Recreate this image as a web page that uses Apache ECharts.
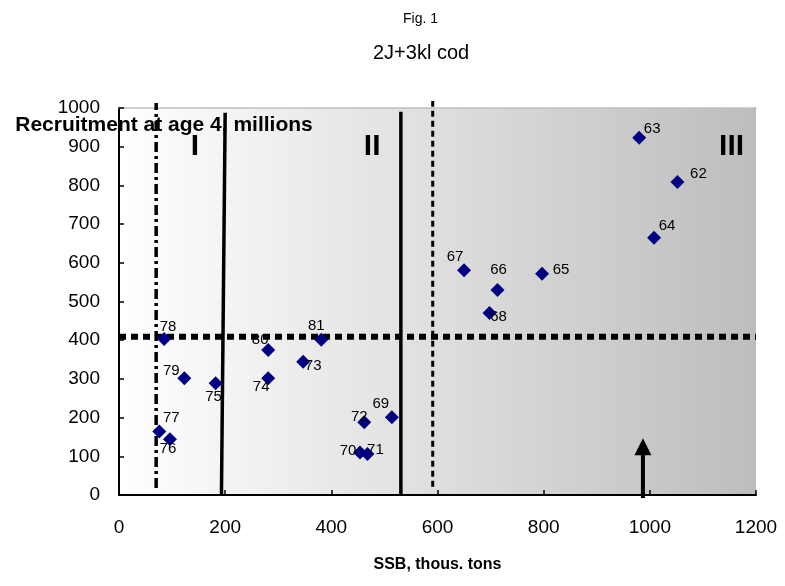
<!DOCTYPE html>
<html><head><meta charset="utf-8">
<script src="https://cdn.jsdelivr.net/npm/echarts@6/dist/echarts.min.js"></script>
<style>html,body{margin:0;padding:0;background:#fff}#c{width:785px;height:586px}</style>
</head><body><div id="c"></div>
<script>
// ---- data ----
const years = ['62','63','64','65','66','67','68','69','70','71','72','73','74','75','76','77','78','79','80','81'];
const ssb = [1052, 980, 1008, 797, 713, 650, 698, 514, 454, 468, 462, 347, 281, 182, 96, 76, 85, 123, 281, 381];
const recruitment = [809, 923, 665, 572, 530, 581, 470, 201, 110, 106, 188, 344, 302, 289, 144, 164, 403, 302, 375, 401];
const xTicks = [0, 200, 400, 600, 800, 1000, 1200];
const yTicks = [0, 100, 200, 300, 400, 500, 600, 700, 800, 900, 1000];
// reference levels
const bcol = 70;
const blim = 591;
const recruitLevel = 409;
const zoneBoundary1 = [[193, 0], [200, 988]];
const zoneBoundary2 = 531;
const arrowSSB = 987;
const zoneNames = ['I', 'II', 'III'];
const zoneNameX = [143, 477, 1154];
const zoneNameY = 899;

// ---- label placement (style) ----
const labelOffsets = {62:[21,-8],63:[13,-9],64:[13,-12],65:[19,-4],66:[1,-20],67:[-9,-13],68:[9,4],69:[-11,-13],70:[-12,-2],71:[8,-4],72:[-5,-5],73:[10,4],74:[-7,9],75:[-2,14],76:[-2,10],77:[12,-14],78:[4,-12],79:[-13,-7],80:[-8,-10],81:[-5,-14]};

const FONT = '"Liberation Sans", Arial, sans-serif';
const chart = echarts.init(document.getElementById('c'), null, {renderer: 'canvas'});

const option = {
  animation: false,
  textStyle: {fontFamily: FONT, color: '#000'},
  title: [
    {text: 'Fig. 1', left: 403, top: 12, padding: 0, textStyle: {fontSize: 14, fontWeight: 'normal', color: '#000', fontFamily: FONT}},
    {text: '2J+3kl cod', left: 373, top: 43, padding: 0, textStyle: {fontSize: 20, fontWeight: 'normal', color: '#000', fontFamily: FONT}}
  ],
  graphic: [{
    type: 'text', x: 164, y: 125, z: 100,
    style: {text: 'Recruitment at age 4, millions', textAlign: 'center', textVerticalAlign: 'middle',
      font: 'bold 21px "Liberation Sans", Arial, sans-serif', fill: '#000'}
  }],
  grid: {
    left: 119, right: 29, top: 108, bottom: 91, show: true, borderWidth: 0,
    backgroundColor: {type: 'linear', x: 0, y: 0, x2: 1, y2: 0,
      colorStops: [{offset: 0, color: '#ffffff'}, {offset: 1, color: '#bdbdbd'}]}
  },
  xAxis: [{
    type: 'value', min: xTicks[0], max: xTicks[xTicks.length - 1], interval: xTicks[1] - xTicks[0],
    axisLine: {lineStyle: {color: '#000', width: 2}},
    axisTick: {inside: true, length: 5, lineStyle: {color: '#000', width: 1.5}},
    axisLabel: {color: '#000', fontSize: 19, margin: 23, fontFamily: FONT, formatter: v => String(v)},
    splitLine: {show: false},
    name: 'SSB, thous. tons', nameLocation: 'middle', nameGap: 62, nameMoveOverlap: false,
    nameTextStyle: {fontWeight: 'bold', fontSize: 16, color: '#000', fontFamily: FONT}
  }, {
    type: 'value', position: 'top', min: xTicks[0], max: xTicks[xTicks.length - 1],
    axisLine: {show: true, lineStyle: {color: '#c0c0c0', width: 1.5}},
    axisTick: {show: false}, axisLabel: {show: false}, splitLine: {show: false}
  }],
  yAxis: {
    type: 'value', min: yTicks[0], max: yTicks[yTicks.length - 1], interval: yTicks[1] - yTicks[0],
    axisLine: {show: true, lineStyle: {color: '#000', width: 2}},
    axisTick: {show: true, inside: true, length: 5, lineStyle: {color: '#000', width: 1.5}},
    axisLabel: {color: '#000', fontSize: 19, margin: 19, fontFamily: FONT, formatter: v => String(v)},
    splitLine: {show: false}
  },
  series: [
    { // Bcol
      type: 'line', clip: false, symbol: 'none', silent: true, z: 3,
      data: [[bcol, 18], [bcol, 1013]],
      lineStyle: {color: '#000', width: 3.5, type: [10, 4, 3, 4]}
    },
    { // Blim
      type: 'line', clip: false, symbol: 'none', silent: true, z: 3,
      data: [[blim, 21], [blim, 1018]],
      lineStyle: {color: '#000', width: 3, type: [6, 4]}
    },
    { // zone boundary I/II
      type: 'line', clip: false, symbol: 'none', silent: true, z: 3,
      data: zoneBoundary1,
      lineStyle: {color: '#000', width: 3.5}
    },
    { // zone boundary II
      type: 'line', clip: false, symbol: 'none', silent: true, z: 3,
      data: [[zoneBoundary2, 0], [zoneBoundary2, 990]],
      lineStyle: {color: '#000', width: 3.5}
    },
    { // horizontal recruitment level
      type: 'line', clip: false, symbol: 'none', silent: true, z: 3,
      data: [[xTicks[0], recruitLevel], [xTicks[xTicks.length - 1], recruitLevel]],
      lineStyle: {color: '#000', width: 6, type: [7, 5]}
    },
    { // arrow
      type: 'line', clip: false, symbol: 'none', silent: true, z: 4,
      data: [{value: [arrowSSB, -8]}, {value: [arrowSSB, 125], symbol: 'triangle', symbolSize: 17}],
      itemStyle: {color: '#000'},
      lineStyle: {color: '#000', width: 4}
    },
    { // line name labels
      type: 'scatter', symbolSize: 0, silent: true, z: 6, itemStyle: {opacity: 1},
      data: [
        {value: [bcol, 1013], name: 'Bcol', label: {offset: [22, -10]}},
        {value: [blim, 1018], name: 'Blim', label: {offset: [29, -4]}}
      ],
      label: {show: true, position: 'inside', formatter: '{b}', color: '#000', fontSize: 19, fontWeight: 'bold', fontFamily: FONT}
    },
    { // zone names
      type: 'scatter', symbolSize: 0, silent: true, z: 6, itemStyle: {opacity: 1},
      data: zoneNames.map((n, i) => ({value: [zoneNameX[i], zoneNameY], name: n})),
      label: {show: true, position: 'inside', formatter: '{b}', color: '#000', fontSize: 30, fontWeight: 'bold', fontFamily: FONT}
    },
    { // data points
      type: 'scatter', symbol: 'diamond', symbolSize: 14, z: 10,
      itemStyle: {color: '#000080', opacity: 1},
      data: ssb.map((x, i) => ({value: [x, recruitment[i]], name: years[i], label: {offset: labelOffsets[years[i]]}})),
      label: {show: true, position: 'inside', formatter: '{b}', color: '#000', fontSize: 15, fontFamily: FONT}
    }
  ]
};
chart.setOption(option);
</script>
</body></html>
